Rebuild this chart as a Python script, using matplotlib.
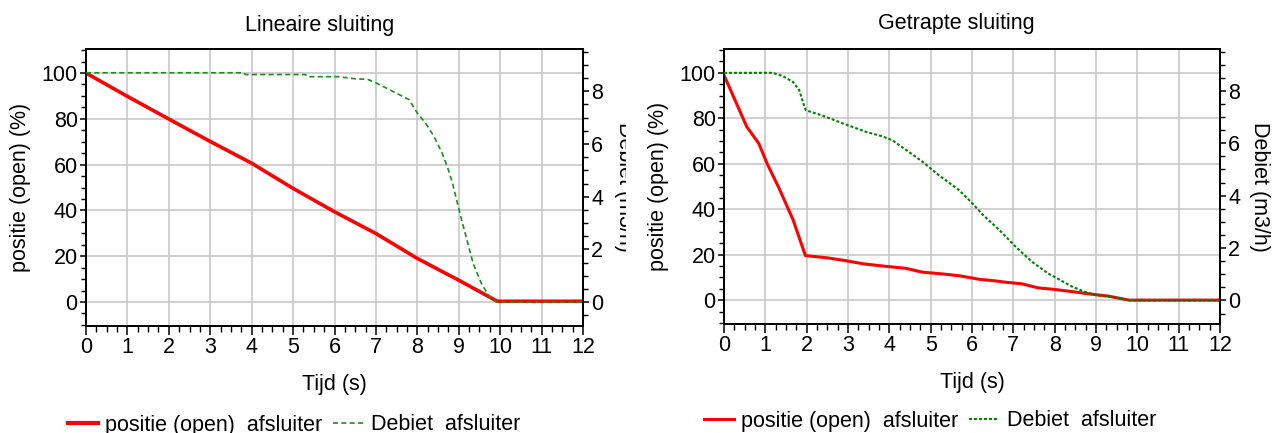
import matplotlib
matplotlib.use("Agg")
import matplotlib.pyplot as plt
from matplotlib.ticker import MultipleLocator
from matplotlib.lines import Line2D
from matplotlib.transforms import Bbox, TransformedBbox

plt.rcParams['font.family'] = ['Liberation Sans', 'DejaVu Sans']

# ---------------- data ----------------
titles = ["Lineaire sluiting", "Getrapte sluiting"]
xlabel = "Tijd (s)"
ylabel_left = "positie (open) (%)"
ylabel_right = "Debiet (m3/h)"
legend_labels = ["positie (open)  afsluiter", "Debiet  afsluiter"]

# Linear closing
t_pos_lin = [0, 1, 2, 3, 4, 5, 6, 7, 8, 9, 9.93, 12]
pos_lin = [100, 89.8, 79.9, 70.1, 60.6, 49.6, 39.4, 29.9, 19.0, 9.5, 0.3, 0.3]
t_q_lin = [0, 3.8, 3.85, 5.3, 5.35, 6.1, 6.5, 6.8, 7.0, 7.4, 7.8, 8.0, 8.2, 8.4,
           8.6, 8.75, 8.85, 8.95, 9.05, 9.2, 9.35, 9.55, 9.75, 9.93, 12]
q_lin = [8.70, 8.70, 8.63, 8.63, 8.55, 8.55, 8.47, 8.45, 8.32, 8.0, 7.68, 7.17, 6.79, 6.29,
         5.65, 5.02, 4.51, 3.87, 3.24, 2.35, 1.46, 0.70, 0.19, 0.0, 0.0]

# Stepped closing
t_pos_step = [0, 0.55, 0.84, 1.04, 1.33, 1.67, 1.97, 2.5, 2.9, 3.4, 3.9, 4.4, 4.8, 5.3,
              5.7, 6.2, 6.5, 6.8, 7.2, 7.6, 8.0, 8.4, 8.9, 9.3, 9.8, 12]
pos_step = [99, 76.3, 69, 60.2, 49.3, 35.4, 19.6, 18.6, 17.5, 15.9, 14.9, 14.0, 12.3, 11.5,
            10.7, 9.1, 8.6, 7.9, 7.2, 5.4, 4.7, 3.8, 2.6, 1.75, 0, 0]
t_q_step = [0, 1.18, 1.43, 1.67, 1.82, 1.92, 1.98, 2.36, 2.84, 3.43, 3.82, 4.07, 4.41, 4.8,
            5.19, 5.68, 5.97, 6.27, 6.66, 7.05, 7.44, 7.83, 8.12, 8.42, 8.71, 9.0, 9.49, 9.83, 12]
q_step = [8.69, 8.69, 8.56, 8.34, 8.03, 7.52, 7.26, 7.07, 6.78, 6.44, 6.27, 6.12, 5.74, 5.30,
          4.79, 4.22, 3.77, 3.26, 2.69, 2.06, 1.49, 1.04, 0.79, 0.53, 0.34, 0.2, 0.11, 0.0, 0.0]

# ---------------- figure ----------------
W, H = 1272, 433
fig = plt.figure(figsize=(W / 100, H / 100), dpi=100)
fig.patch.set_facecolor('white')

FS = 15.5
GRID = '#c8c8c8'


def px_axes(l, r, t, b):
    return fig.add_axes([l / W, (H - b) / H, (r - l) / W, (b - t) / H])


def style(ax, ax2, ylab_x):
    ax.set_xlim(0, 12)
    ax.set_ylim(-10.5, 110.5)
    ax2.set_ylim(-0.9, 9.6)
    ax.xaxis.set_major_locator(MultipleLocator(1))
    ax.xaxis.set_minor_locator(MultipleLocator(0.25))
    ax.yaxis.set_major_locator(MultipleLocator(20))
    ax.yaxis.set_minor_locator(MultipleLocator(5))
    ax2.yaxis.set_major_locator(MultipleLocator(2))
    ax2.yaxis.set_minor_locator(MultipleLocator(0.5))
    ax.grid(True, which='major', color=GRID, linewidth=1.2)
    ax.set_axisbelow(True)
    for a in (ax, ax2):
        for s in a.spines.values():
            s.set_linewidth(1.3)
            s.set_color('black')
    ax.tick_params(axis='x', which='major', direction='out', length=6.5, width=1.1,
                   labelsize=FS, pad=1.5, top=False)
    ax.tick_params(axis='x', which='minor', direction='out', length=4, width=1.0, top=False)
    ax.tick_params(axis='y', which='major', direction='out', length=4.5, width=1.1,
                   labelsize=FS, pad=1.5, right=False)
    ax.tick_params(axis='y', which='minor', direction='out', length=3.5, width=1.0, right=False)
    ax2.tick_params(axis='y', which='major', direction='out', length=4.5, width=1.1,
                    labelsize=FS, pad=1.5)
    ax2.tick_params(axis='y', which='minor', direction='out', length=3.5, width=1.0)
    ax.set_xlabel(xlabel, fontsize=FS)
    ax.xaxis.set_label_coords(0.5, -0.175)
    ax.set_ylabel(ylabel_left, fontsize=FS)
    ax.yaxis.set_label_coords(ylab_x, 0.5)


# Left panel
axL = px_axes(86, 583, 49, 326)
axL2 = axL.twinx()
style(axL, axL2, -0.11)
axL.plot(t_pos_lin, pos_lin, color='#ff0000', linewidth=2.6, zorder=3)
axL2.plot(t_q_lin, q_lin, color='#1e8c1e', linewidth=1.2, linestyle=(0, (3, 2)), zorder=4)
fig.text(320 / W, 1 - 25 / H, titles[0], ha='center', va='center', fontsize=FS)
lab = fig.text(624 / W, 1 - 187 / H, ylabel_right, rotation=270, ha='center', va='center',
               fontsize=FS)
lab.set_clip_box(TransformedBbox(Bbox([[0, 0], [626 / W, 1]]), fig.transFigure))
lab.set_clip_on(True)

hL = [Line2D([], [], color='#ff0000', linewidth=3.0),
      Line2D([], [], color='#1e8c1e', linewidth=1.2, linestyle=(0, (3, 2)))]
fig.legend(hL, legend_labels, loc='center', bbox_to_anchor=(294 / W, 1 - 425 / H),
           ncol=2, frameon=False, fontsize=FS, handlelength=1.4, handletextpad=0.35,
           columnspacing=0.5, borderaxespad=0, borderpad=0)

# Right panel
axR = px_axes(724, 1220, 49, 324)
axR2 = axR.twinx()
style(axR, axR2, -0.11)
axR.plot(t_pos_step, pos_step, color='#ff0000', linewidth=2.2, zorder=3)
axR2.plot(t_q_step, q_step, color='#008000', linewidth=1.5, linestyle=(0, (1.4, 1.0)), zorder=4)
fig.text(956 / W, 1 - 24 / H, titles[1], ha='center', va='center', fontsize=FS)
axR2.set_ylabel(ylabel_right, fontsize=FS, rotation=270, va='center')
axR2.yaxis.set_label_coords(1.08, 0.5)

hR = [Line2D([], [], color='#ff0000', linewidth=2.2),
      Line2D([], [], color='#008000', linewidth=1.5, linestyle=(0, (1.4, 1.0)))]
fig.legend(hR, legend_labels, loc='center', bbox_to_anchor=(930 / W, 1 - 421 / H),
           ncol=2, frameon=False, fontsize=FS, handlelength=1.4, handletextpad=0.35,
           columnspacing=0.5, borderaxespad=0, borderpad=0)

fig.savefig('out.png', dpi=100)
